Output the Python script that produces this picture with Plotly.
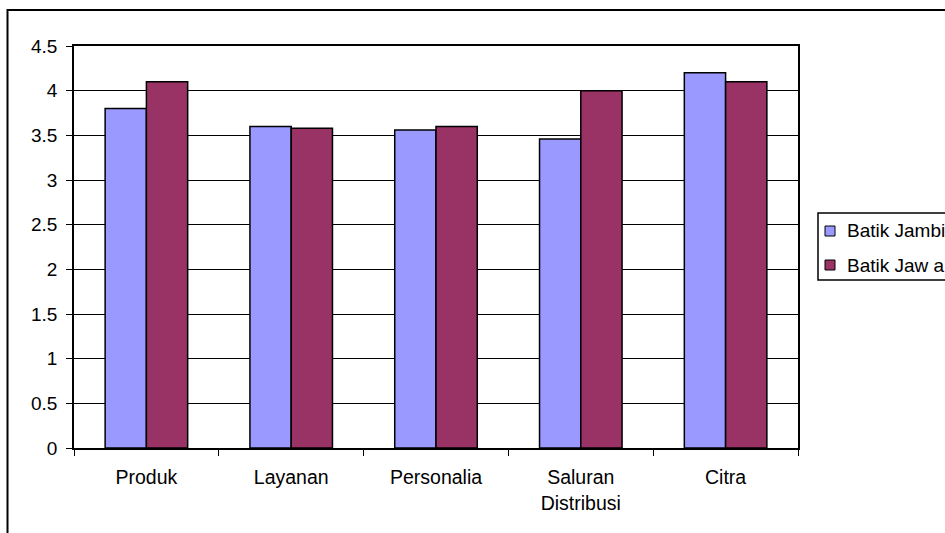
import plotly.graph_objects as go

categories = ["Produk", "Layanan", "Personalia", "Saluran<br>Distribusi", "Citra"]
batik_jambi = [3.8, 3.6, 3.56, 3.46, 4.2]
batik_jawa = [4.1, 3.58, 3.6, 4.0, 4.1]
series_names = ["Batik Jambi", "Batik Jaw a"]
series_colors = ["#9999FF", "#993366"]
y_ticks = [0, 0.5, 1, 1.5, 2, 2.5, 3, 3.5, 4, 4.5]

FONT = "Liberation Sans, Arial, sans-serif"

# pixel -> paper helpers (plot area spans x 74..798, y 46..448)
def px(x):
    return (x - 74) / 724.0

def py(y):
    return (448 - y) / 402.0

fig = go.Figure()
for name, vals, col in zip(series_names, [batik_jambi, batik_jawa], series_colors):
    fig.add_trace(go.Bar(x=categories, y=vals, name=name, showlegend=False,
                         marker=dict(color=col, line=dict(color="black", width=1.5))))

shapes = [
    # outer chart border
    dict(type="rect", xref="paper", yref="paper", x0=px(7.5), x1=2.0, y0=-1.0, y1=py(10),
         line=dict(color="black", width=2), fillcolor="rgba(0,0,0,0)", layer="below"),
    # legend box
    dict(type="rect", xref="paper", yref="paper", x0=px(818), x1=2.0, y0=py(280), y1=py(213),
         line=dict(color="black", width=1.5), fillcolor="white", layer="above"),
]
annotations = []
legend_y = [231, 265]
for name, col, cy in zip(series_names, series_colors, legend_y):
    shapes.append(dict(type="rect", xref="paper", yref="paper",
                       x0=px(825), x1=px(835), y0=py(cy + 5), y1=py(cy - 5),
                       line=dict(color="black", width=1), fillcolor=col, layer="above"))
    annotations.append(dict(xref="paper", yref="paper", x=px(845), y=py(cy),
                            xanchor="left", yanchor="middle", text=name, showarrow=False,
                            font=dict(size=19, color="black", family=FONT)))

fig.update_layout(
    width=945, height=533,
    margin=dict(l=74, r=147, t=46, b=85, autoexpand=False),
    paper_bgcolor="white", plot_bgcolor="white",
    font=dict(family=FONT, size=19, color="black"),
    barmode="group", bargap=0.43, bargroupgap=0,
    showlegend=False,
    xaxis=dict(showline=True, linecolor="black", linewidth=1.5, mirror=True,
               ticks="outside", tickson="boundaries", ticklen=6, tickcolor="black",
               showgrid=False, tickfont=dict(size=19.5), ticklabelstandoff=11),
    yaxis=dict(range=[0, 4.5], tickvals=y_ticks, showline=True, linecolor="black",
               linewidth=1.5, mirror=True, ticks="outside", ticklen=6, tickcolor="black",
               showgrid=True, gridcolor="black", gridwidth=1, zeroline=False,
               tickfont=dict(size=19), ticklabelstandoff=5),
    shapes=shapes,
    annotations=annotations,
)

fig.write_html("out.html")
